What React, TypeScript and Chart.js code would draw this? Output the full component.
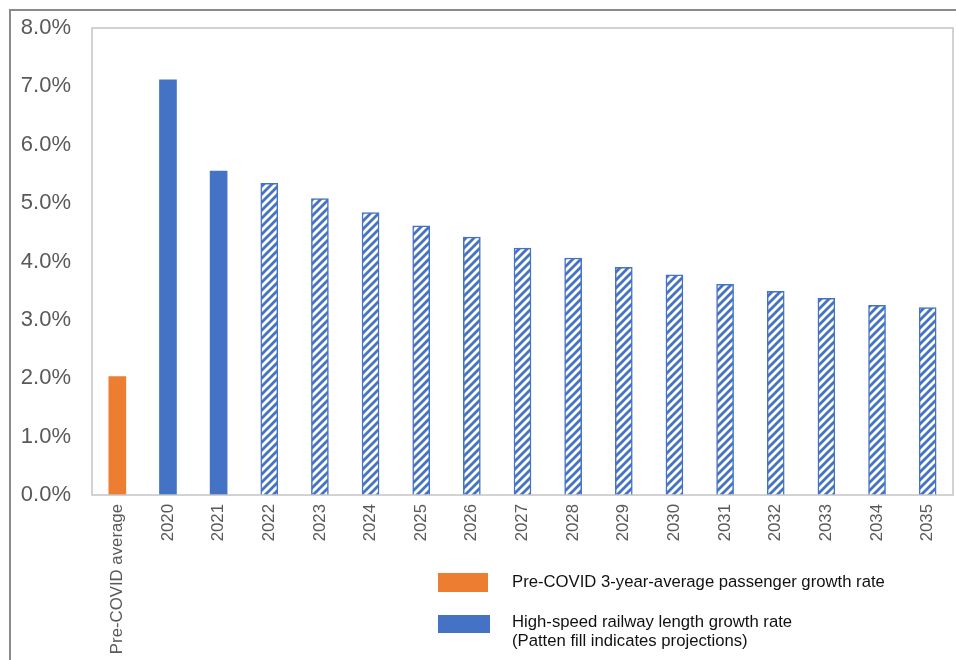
import React, { useEffect, useRef } from "react";
import { Chart, registerables } from "chart.js";

Chart.register(...registerables);

const categories = [
  "Pre-COVID average", "2020", "2021", "2022", "2023", "2024", "2025", "2026",
  "2027", "2028", "2029", "2030", "2031", "2032", "2033", "2034", "2035",
];
const growthValues = [
  2.03, 7.11, 5.55, 5.34, 5.08, 4.84, 4.61, 4.42, 4.23, 4.06, 3.9, 3.77, 3.61, 3.49, 3.37, 3.25, 3.21,
];
// kind of each bar: "pre" = pre-COVID passenger, "actual" = actual HSR, "proj" = projection
const barKinds = [
  "pre", "actual", "actual", "proj", "proj", "proj", "proj", "proj", "proj",
  "proj", "proj", "proj", "proj", "proj", "proj", "proj", "proj",
];
const legendLabels = [
  ["Pre-COVID 3-year-average passenger growth rate"],
  ["High-speed railway length growth rate", "(Patten fill indicates projections)"],
];

const ORANGE = "#ED7D31";
const BLUE = "#4472C4";
const FONT = "'Liberation Sans', Arial, sans-serif";

function makeHatch(): CanvasPattern | string {
  const n = 8;
  const c = document.createElement("canvas");
  c.width = n;
  c.height = n;
  const ctx = c.getContext("2d");
  if (!ctx) return BLUE;
  ctx.fillStyle = "#ffffff";
  ctx.fillRect(0, 0, n, n);
  ctx.strokeStyle = BLUE;
  ctx.lineWidth = 2.8;
  ctx.lineCap = "square";
  ctx.beginPath();
  ctx.moveTo(0, n);
  ctx.lineTo(n, 0);
  ctx.moveTo(-n / 2, n / 2);
  ctx.lineTo(n / 2, -n / 2);
  ctx.moveTo(n / 2, n * 1.5);
  ctx.lineTo(n * 1.5, n / 2);
  ctx.stroke();
  const p = ctx.createPattern(c, "repeat");
  return p || BLUE;
}

export default function App() {
  const ref = useRef<HTMLCanvasElement | null>(null);

  useEffect(() => {
    if (!ref.current) return;
    const hatch = makeHatch();
    const bg = barKinds.map((k) => (k === "pre" ? ORANGE : k === "actual" ? BLUE : hatch));
    const borderW = barKinds.map((k) => (k === "proj" ? 1.5 : 0));

    const framePlugin = {
      id: "frame",
      beforeDraw(chart: any) {
        const ctx = chart.ctx;
        ctx.save();
        ctx.fillStyle = "#ffffff";
        ctx.fillRect(0, 0, chart.width, chart.height);
        ctx.fillStyle = "#8a8a8a";
        ctx.fillRect(9, 9, chart.width, 2);
        ctx.fillRect(9, 9, 2, chart.height);
        ctx.restore();
      },
      afterDraw(chart: any) {
        const ctx = chart.ctx;
        const a = chart.chartArea;
        ctx.save();
        ctx.strokeStyle = "#c4c4c4";
        ctx.lineWidth = 1.5;
        ctx.strokeRect(a.left, a.top, a.right - a.left, a.bottom - a.top);
        // legend
        const colors = [ORANGE, BLUE];
        const boxes = [
          { x: 438, y: 573, w: 50, h: 19 },
          { x: 438, y: 615, w: 52, h: 18 },
        ];
        const textY = [[582], [622, 641]];
        ctx.font = "16.7px " + FONT;
        ctx.textBaseline = "middle";
        ctx.textAlign = "left";
        for (let i = 0; i < legendLabels.length; i++) {
          ctx.fillStyle = colors[i];
          ctx.fillRect(boxes[i].x, boxes[i].y, boxes[i].w, boxes[i].h);
          ctx.fillStyle = "#111111";
          legendLabels[i].forEach((t, j) => ctx.fillText(t, 512, textY[i][j]));
        }
        ctx.restore();
      },
    };

    const chart = new Chart(ref.current, {
      type: "bar",
      data: {
        labels: categories,
        datasets: [
          {
            data: growthValues,
            backgroundColor: bg as any,
            borderColor: BLUE,
            borderWidth: borderW,
            barThickness: 17,
          },
        ],
      },
      options: {
        animation: false,
        responsive: false,
        devicePixelRatio: 1,
        layout: { padding: { top: 28, right: 3, left: 0, bottom: 0 } },
        plugins: { legend: { display: false }, tooltip: { enabled: false } },
        scales: {
          x: {
            grid: { display: false, drawTicks: false },
            border: { display: false },
            ticks: {
              minRotation: 90,
              maxRotation: 90,
              padding: 9,
              color: "#595959",
              font: { family: FONT, size: 16.8 },
            },
            afterFit(scale: any) {
              scale.height = 165;
              scale.paddingLeft = 0;
              scale.paddingRight = 0;
            },
          },
          y: {
            min: 0,
            max: 8,
            grid: { display: false, drawTicks: false },
            border: { display: false },
            ticks: {
              stepSize: 1,
              padding: 21,
              color: "#595959",
              font: { family: FONT, size: 22 },
              callback: (v: any) => Number(v).toFixed(1) + "%",
            },
            afterFit(scale: any) {
              scale.width = 92;
              scale.paddingTop = 0;
              scale.paddingBottom = 0;
            },
          },
        },
      },
      plugins: [framePlugin],
    });
    return () => chart.destroy();
  }, []);

  return (
    <div style={{ position: "absolute", left: 0, top: 0, width: 956, height: 660 }}>
      <canvas ref={ref} width={956} height={660} style={{ width: 956, height: 660 }} />
    </div>
  );
}
